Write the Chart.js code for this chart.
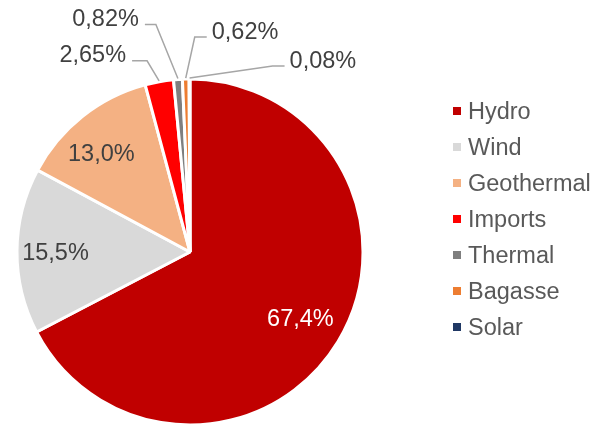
<!DOCTYPE html>
<html>
<head>
<meta charset="utf-8">
<script src="https://cdn.jsdelivr.net/npm/chart.js@4/dist/chart.umd.min.js"></script>
<style>
  html, body { margin: 0; padding: 0; background: #fff; }
  #wrap { width: 594px; height: 426px; }
</style>
</head>
<body>
<div id="wrap"><canvas id="myChart" width="594" height="426"></canvas></div>
<script>
// data
var sources = ['Hydro', 'Wind', 'Geothermal', 'Imports', 'Thermal', 'Bagasse', 'Solar'];
var shares = [67.4, 15.5, 13.0, 2.65, 0.82, 0.62, 0.08];
var decimals = [1, 1, 1, 2, 2, 2, 2];
var colors = ['#C00000', '#D9D9D9', '#F4B183', '#FF0000', '#7F7F7F', '#ED7D31', '#203864'];

// where each label goes: inside the slice, or out with a leader line
// outside: [elbow dx, elbow dy from slice edge, horizontal length]
var outside = {
    3: [-12, -20, -15],
    4: [-22, -54, -11],
    5: [9, -41, 12],
    6: [83, -12, 12]
};
// small nudges for the labels that sit inside
var inside = {
    0: [-2, -3],
    1: [-3, 0],
    2: [-7, 4]
};

var FONT = '23.5px "Liberation Sans", Arial, sans-serif';

function fmt(i) {
    return shares[i].toFixed(decimals[i]).replace('.', ',') + '%';
}

var sliceLabels = {
    id: 'sliceLabels',
    afterDatasetsDraw: function(chart) {
        var ctx = chart.ctx;
        var meta = chart.getDatasetMeta(0);
        ctx.save();
        ctx.font = FONT;
        ctx.textBaseline = 'alphabetic';
        meta.data.forEach(function(arc, i) {
            var mid = (arc.startAngle + arc.endAngle) / 2;
            var r = arc.outerRadius;
            var text = fmt(i);
            if (outside[i]) {
                var o = outside[i];
                var sx = arc.x + Math.cos(mid) * (r + 1);
                var sy = arc.y + Math.sin(mid) * (r + 1);
                var ex = sx + o[0], ey = sy + o[1];
                var hx = ex + o[2];
                ctx.strokeStyle = '#A6A6A6';
                ctx.lineWidth = 1.5;
                ctx.beginPath();
                ctx.moveTo(sx, sy);
                ctx.lineTo(ex, ey);
                ctx.lineTo(hx, ey);
                ctx.stroke();
                ctx.fillStyle = '#404040';
                if (o[2] < 0) {
                    ctx.textAlign = 'right';
                    ctx.fillText(text, hx - 6, ey + 1.7);
                } else {
                    ctx.textAlign = 'left';
                    ctx.fillText(text, hx + 5, ey + 1.7);
                }
            } else {
                var d = r * 0.76;
                var n = inside[i] || [0, 0];
                ctx.textAlign = 'center';
                ctx.fillStyle = i === 0 ? '#FFFFFF' : '#404040';
                ctx.fillText(text, arc.x + Math.cos(mid) * d + n[0], arc.y + Math.sin(mid) * d + 8.4 + n[1]);
            }
        });
        ctx.restore();
    }
};

var sideLegend = {
    id: 'sideLegend',
    afterDraw: function(chart) {
        var ctx = chart.ctx;
        ctx.save();
        ctx.font = FONT;
        ctx.textAlign = 'left';
        ctx.textBaseline = 'alphabetic';
        sources.forEach(function(name, i) {
            var y = 111 + 36 * i;
            ctx.fillStyle = colors[i];
            ctx.fillRect(453, y - 4, 8, 8);
            ctx.fillStyle = '#595959';
            ctx.fillText(name, 468, y + 8.4);
        });
        ctx.restore();
    }
};

var ctx = document.getElementById('myChart').getContext('2d');
var myChart = new Chart(ctx, {
    type: 'pie',
    data: {
        labels: sources,
        datasets: [{
            data: shares,
            backgroundColor: colors,
            borderColor: '#FFFFFF',
            borderWidth: 3
        }]
    },
    options: {
        responsive: false,
        animation: false,
        radius: 173,
        layout: {
            padding: { left: 17, right: 231, top: 79, bottom: 1 }
        },
        plugins: {
            legend: { display: false },
            tooltip: { enabled: false }
        }
    },
    plugins: [sliceLabels, sideLegend]
});
</script>
</body>
</html>
